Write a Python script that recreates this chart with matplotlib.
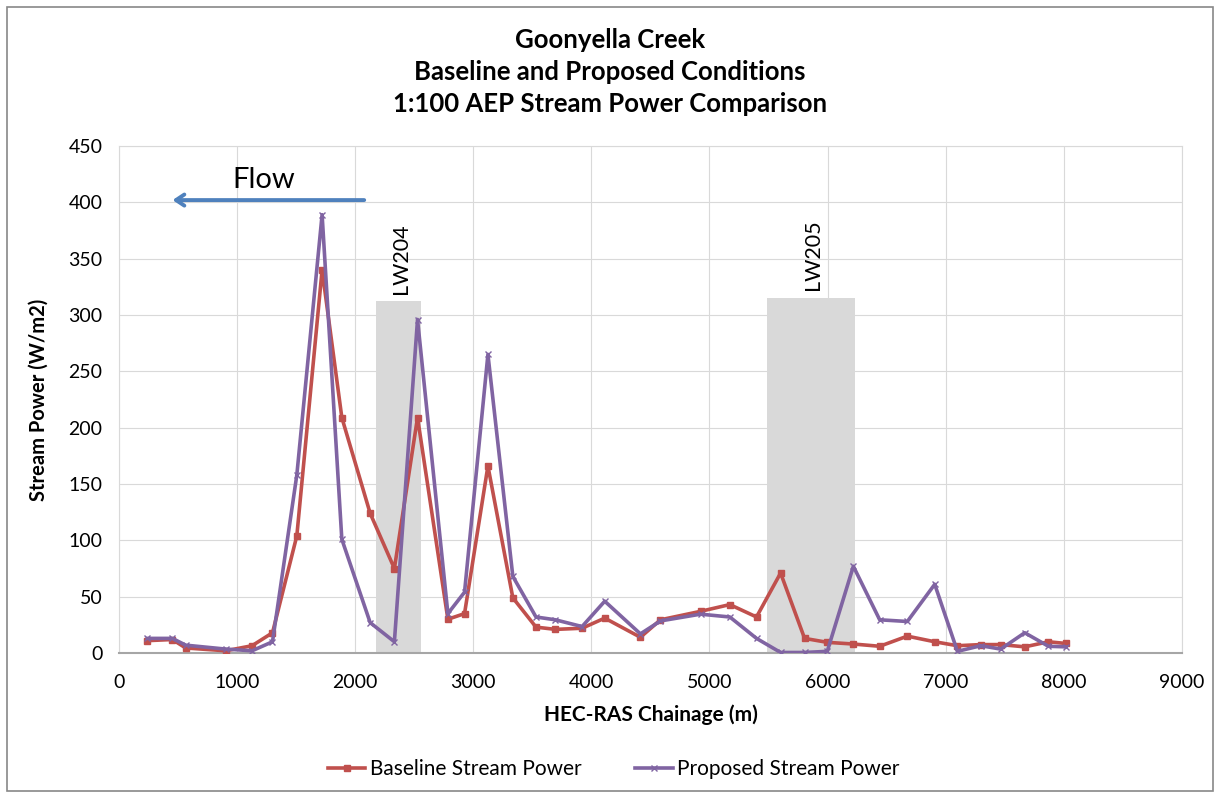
import numpy as np
import matplotlib
matplotlib.use("Agg")
import matplotlib.pyplot as plt
from matplotlib.patches import Rectangle

plt.rcParams['font.family'] = ['Lato', 'DejaVu Sans']

# chainage (m) of the HEC-RAS cross sections
chainage = [240, 452, 565, 904, 1127, 1300, 1506, 1720, 1887, 2127,
            2332, 2528, 2785, 2926, 3124, 3335, 3531, 3695, 3921, 4113,
            4415, 4585, 4924, 5172, 5398, 5602, 5805, 5997, 6218, 6441,
            6675, 6907, 7099, 7297, 7466, 7669, 7870, 8017]

baseline = [11, 12, 4.5, 2, 6.5, 18, 104, 340, 209, 124,
            75, 209, 30, 35, 166, 49, 23, 21, 22, 31,
            14, 29.5, 37, 43, 32, 71, 13, 9.5, 8, 6,
            15, 10, 6.5, 7.5, 7.5, 5.5, 10, 8.5]

proposed = [13, 13, 7, 3.5, 2, 10, 158, 389, 101, 27,
            10, 296, 35, 54, 265, 68, 32, 29.5, 23.5, 46,
            17, 28.5, 34.5, 32, 13, 0.5, 0.5, 1.5, 77, 29.5,
            28, 61, 1.5, 6.5, 3.5, 18, 6, 5.5]

# longwall panels: name, start, end, shade height
panels = ["LW204", "LW205"]
panel_start = [2180, 5490]
panel_end = [2557, 6231]
panel_top = [312, 315]

red = "#C0504D"
purple = "#8064A2"
blue = "#4F81BD"

fig = plt.figure(figsize=(12.2, 7.96), dpi=100)
ax = fig.add_axes([0.0975, 0.1796, 0.8713, 0.637])

# outer frame of the chart
fig.patches.append(Rectangle((0.006, 0.006), 0.988, 0.985, transform=fig.transFigure,
                             fill=False, edgecolor="#888888", linewidth=1.2))

for name, s, e, h in zip(panels, panel_start, panel_end, panel_top):
    ax.bar(s, h, width=e - s, align="edge", color="#D9D9D9", zorder=1)
    ax.text((s + e) / 2 + 20, h + 7, name, rotation=90,
            ha="center", va="bottom", fontsize=15.5)

ax.plot(chainage, baseline, color=red, linewidth=2.6, marker="s", markersize=5,
        label="Baseline Stream Power", zorder=3)
ax.plot(chainage, proposed, color=purple, linewidth=2.6, marker="x", markersize=5,
        markeredgewidth=1, label="Proposed Stream Power", zorder=4)

ax.annotate("", xy=(430, 402), xytext=(2100, 402),
            arrowprops=dict(arrowstyle="->,head_length=0.6,head_width=0.4", color=blue, lw=2.8))
ax.text(1230, 420, "Flow", ha="center", va="center", fontsize=21)

ax.set_xlim(0, 9000)
ax.set_ylim(0, 450)
ax.set_xticks(np.arange(0, 9001, 1000))
ax.set_yticks(np.arange(0, 451, 50))
ax.grid(True, color="#D9D9D9", linewidth=0.8, zorder=0)
ax.set_axisbelow(True)
for side in ["top", "right", "left"]:
    ax.spines[side].set_color("#D9D9D9")
ax.spines["bottom"].set_color("#A6A6A6")
ax.spines["bottom"].set_linewidth(1.5)
ax.tick_params(length=0, labelsize=14)
ax.tick_params(axis="x", pad=15)
ax.tick_params(axis="y", pad=12)

ax.set_xlabel("HEC-RAS Chainage (m)", fontsize=15, fontweight="bold", labelpad=10)
ax.set_ylabel("Stream Power (W/m2)", fontsize=14.5, fontweight="bold", labelpad=14)

fig.text(0.5, 0.950, "Goonyella Creek", ha="center", va="center", fontsize=18.5, fontweight="bold")
fig.text(0.5, 0.910, "Baseline and Proposed Conditions", ha="center", va="center",
         fontsize=18.5, fontweight="bold")
fig.text(0.5, 0.869, "1:100 AEP Stream Power Comparison", ha="center", va="center",
         fontsize=18.5, fontweight="bold")

fig.legend(loc="center", bbox_to_anchor=(0.503, 0.034), ncol=2, frameon=False,
           fontsize=15, handlelength=1.8, handletextpad=0.2, columnspacing=2.6)

fig.savefig("out.png", dpi=100)
